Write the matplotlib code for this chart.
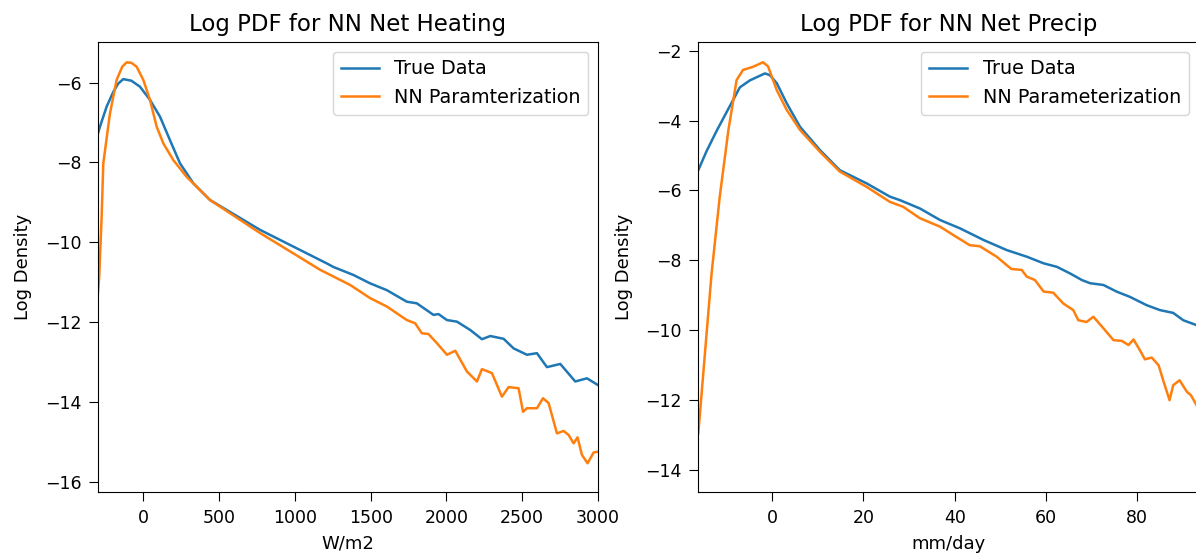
import matplotlib
matplotlib.use("Agg")
import matplotlib.pyplot as plt

# Net heating (W/m2): log density of true data vs NN parameterization
heat_true_x = [-300, -287, -243, -199, -166, -133, -80, -23, 43, 109, 175, 241, 329,
               439, 549, 770, 990, 1210, 1254, 1386, 1496, 1606, 1738, 1804, 1914,
               1947, 2003, 2069, 2157, 2234, 2289, 2377, 2443, 2531, 2597, 2663,
               2751, 2850, 2927, 3000]
heat_true_y = [-7.27, -7.10, -6.60, -6.23, -6.02, -5.91, -5.95, -6.10, -6.43, -6.85,
               -7.44, -8.02, -8.52, -8.94, -9.19, -9.69, -10.11, -10.53, -10.62,
               -10.82, -11.03, -11.20, -11.49, -11.53, -11.82, -11.80, -11.95,
               -11.99, -12.20, -12.43, -12.35, -12.42, -12.66, -12.82, -12.78,
               -13.13, -13.05, -13.49, -13.41, -13.58]

heat_nn_x = [-300, -292, -276, -265, -221, -177, -140, -111, -80, -45, -1, 43, 87,
             131, 197, 285, 439, 770, 990, 1166, 1364, 1496, 1606, 1738, 1793, 1837,
             1881, 1937, 2003, 2058, 2135, 2201, 2234, 2300, 2366, 2410, 2476, 2505,
             2531, 2597, 2637, 2674, 2729, 2773, 2806, 2839, 2865, 2894, 2931, 2971,
             3000]
heat_nn_y = [-11.27, -10.86, -9.36, -8.02, -6.77, -5.93, -5.60, -5.49, -5.50, -5.60,
             -5.93, -6.43, -7.10, -7.52, -7.94, -8.36, -8.94, -9.77, -10.28, -10.69,
             -11.07, -11.40, -11.61, -11.95, -12.03, -12.28, -12.30, -12.53, -12.82,
             -12.72, -13.24, -13.49, -13.18, -13.28, -13.87, -13.63, -13.66, -14.25,
             -14.16, -14.16, -13.91, -14.03, -14.79, -14.73, -14.83, -15.04, -14.89,
             -15.33, -15.54, -15.27, -15.25]

# Net precipitation (mm/day)
prec_true_x = [-16.2, -14.4, -12.2, -10.0, -7.1, -4.9, -1.6, -0.5, 1.0, 3.2, 6.1,
               10.5, 14.8, 20.7, 25.8, 28.0, 32.4, 36.8, 41.2, 46.3, 51.4, 55.8,
               59.5, 62.4, 65.3, 67.9, 69.7, 72.6, 75.5, 78.4, 82.1, 85.0, 87.9,
               90.1, 93.0]
prec_true_y = [-5.42, -4.88, -4.30, -3.76, -3.05, -2.85, -2.65, -2.70, -2.93, -3.51,
               -4.18, -4.85, -5.42, -5.80, -6.18, -6.28, -6.52, -6.85, -7.09, -7.42,
               -7.71, -7.90, -8.09, -8.19, -8.38, -8.57, -8.66, -8.71, -8.90, -9.05,
               -9.29, -9.43, -9.51, -9.72, -9.86]

prec_nn_x = [-16.2, -13.3, -11.5, -9.6, -7.8, -6.4, -4.2, -2.0, -0.9, 1.0, 3.2, 6.1,
             10.5, 14.8, 20.7, 25.8, 28.7, 32.4, 36.8, 39.7, 43.3, 45.5, 49.2, 52.4,
             54.7, 55.8, 57.6, 59.5, 61.6, 63.8, 66.0, 67.1, 68.9, 70.4, 72.6, 74.8,
             76.6, 78.1, 79.2, 80.6, 81.7, 83.2, 84.7, 85.7, 87.1, 87.9, 89.3, 90.9,
             91.8, 93.0]
prec_nn_y = [-12.96, -8.40, -6.18, -4.27, -2.84, -2.55, -2.46, -2.33, -2.45, -3.13,
             -3.70, -4.27, -4.90, -5.46, -5.90, -6.33, -6.47, -6.80, -7.04, -7.28,
             -7.57, -7.60, -7.90, -8.25, -8.28, -8.47, -8.57, -8.90, -8.93, -9.24,
             -9.43, -9.72, -9.77, -9.62, -9.95, -10.29, -10.31, -10.43, -10.27,
             -10.58, -10.84, -10.79, -11.01, -11.44, -12.01, -11.58, -11.44, -11.77,
             -11.87, -12.15]

heat_xticks = [0, 500, 1000, 1500, 2000, 2500, 3000]
heat_yticks = [-16, -14, -12, -10, -8, -6]
prec_xticks = [0, 20, 40, 60, 80]
prec_yticks = [-14, -12, -10, -8, -6, -4, -2]

BLUE = "#1f77b4"
ORANGE = "#ff7f0e"
LW = 1.8

W, H = 1196, 556
fig = plt.figure(figsize=(W / 100, H / 100), dpi=100)

ax1 = fig.add_axes([98 / W, (H - 492) / H, 500 / W, 450 / H])
ax2 = fig.add_axes([698.3 / W, (H - 492) / H, 500 / W, 450 / H])


def style(ax, title, xlabel, xticks, yticks, xlim, ylim):
    ax.set_title(title, fontsize=16.5, pad=8)
    ax.set_xlabel(xlabel, fontsize=13, labelpad=6)
    ax.set_ylabel("Log Density", fontsize=13, labelpad=9)
    ax.set_xticks(xticks)
    ax.set_yticks(yticks)
    ax.set_xlim(*xlim)
    ax.set_ylim(*ylim)
    ax.tick_params(labelsize=12.5, length=6.5, pad=5.5)


ax1.plot(heat_true_x, heat_true_y, color=BLUE, lw=LW, label="True Data")
ax1.plot(heat_nn_x, heat_nn_y, color=ORANGE, lw=LW, label="NN Paramterization")
style(ax1, "Log PDF for NN Net Heating", "W/m2", heat_xticks, heat_yticks,
      (-300, 3000), (-16.26, -4.98))
ax1.legend(loc="upper right", fontsize=13.8)

ax2.plot(prec_true_x, prec_true_y, color=BLUE, lw=LW, label="True Data")
ax2.plot(prec_nn_x, prec_nn_y, color=ORANGE, lw=LW, label="NN Parameterization")
style(ax2, "Log PDF for NN Net Precip", "mm/day", prec_xticks, prec_yticks,
      (-16.2, 93.4), (-14.64, -1.75))
ax2.legend(loc="upper right", fontsize=13.8)

fig.savefig("out.png", dpi=100)
